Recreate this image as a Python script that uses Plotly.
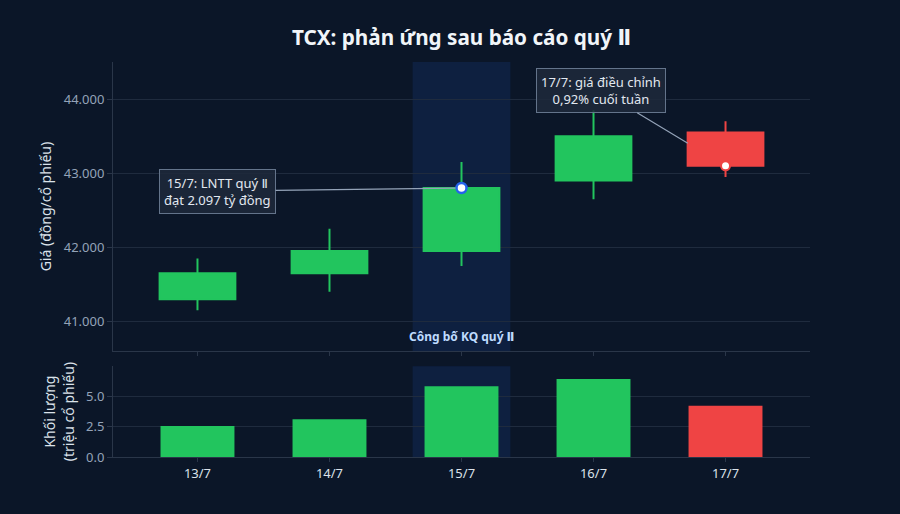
import plotly.graph_objects as go

dates = ["13/7", "14/7", "15/7", "16/7", "17/7"]
opens = [41300, 41650, 41950, 42900, 43550]
highs = [41850, 42250, 43150, 43850, 43700]
lows = [41150, 41400, 41750, 42650, 42950]
closes = [41650, 41950, 42800, 43500, 43100]
volumes = [2.55, 3.1, 5.8, 6.4, 4.2]

price_ticks = [41000, 42000, 43000, 44000]
price_tick_text = ["41.000", "42.000", "43.000", "44.000"]

GREEN = "#22c55e"
RED = "#ef4444"
BG = "#0b1628"
GRID = "#1f2b3e"
AXIS = "#2a3649"
TICKC = "#94a3b8"
FONT = "Noto Sans, DejaVu Sans"

vol_colors = [GREEN if c >= o else RED for o, c in zip(opens, closes)]

fig = go.Figure()

fig.add_trace(go.Candlestick(
    x=dates, open=opens, high=highs, low=lows, close=closes,
    increasing=dict(line=dict(color=GREEN, width=2), fillcolor=GREEN),
    decreasing=dict(line=dict(color=RED, width=2), fillcolor=RED),
    whiskerwidth=0, showlegend=False, xaxis="x", yaxis="y",
))

fig.add_trace(go.Bar(
    x=dates, y=volumes, marker=dict(color=vol_colors, line=dict(width=0)),
    width=0.56, showlegend=False, xaxis="x2", yaxis="y2",
))

# highlight markers
fig.add_trace(go.Scatter(
    x=[dates[2]], y=[closes[2]], mode="markers",
    marker=dict(size=10, color="white", line=dict(color="#2563eb", width=2.5)),
    showlegend=False, xaxis="x", yaxis="y",
))
fig.add_trace(go.Scatter(
    x=[dates[4]], y=[closes[4]], mode="markers",
    marker=dict(size=9, color="white", line=dict(color=RED, width=2)),
    showlegend=False, xaxis="x", yaxis="y",
))

XR = [-0.64, 4.64]

fig.update_layout(
    width=900, height=514,
    paper_bgcolor=BG, plot_bgcolor=BG,
    margin=dict(l=113, r=90, t=62, b=57),
    boxgroupgap=0.18,
    font=dict(family=FONT, color="#e2e8f0", size=13),
    title=dict(text="<b>TCX: phản ứng sau báo cáo quý Ⅱ</b>", x=0.5, xref="paper",
               y=0.926, yref="container", yanchor="middle",
               font=dict(size=20.7, color="#f1f5f9", family=FONT)),
    xaxis=dict(domain=[0, 1], anchor="y", type="category", range=XR,
               showticklabels=False, rangeslider=dict(visible=False),
               showgrid=False, showline=True, linecolor=AXIS,
               ticks="outside", ticklen=4, tickcolor=AXIS, matches="x2"),
    yaxis=dict(domain=[0.268, 1], anchor="x", range=[40600, 44500],
               tickvals=price_ticks, ticktext=price_tick_text,
               gridcolor=GRID, showline=True, linecolor=AXIS, zeroline=False,
               ticks="outside", ticklen=5, tickcolor=AXIS,
               tickfont=dict(color=TICKC, size=13),
               title=dict(text="Giá (đồng/cổ phiếu)", standoff=8,
                          font=dict(size=14, color="#dbe2ea"))),
    xaxis2=dict(domain=[0, 1], anchor="y2", type="category", range=XR,
                showgrid=False, showline=True, linecolor=AXIS,
                ticks="outside", ticklen=4, tickcolor=AXIS,
                tickfont=dict(color="#dbe2ea", size=13)),
    yaxis2=dict(domain=[0, 0.23], anchor="x2", range=[0, 7.46],
                tickvals=[0, 2.5, 5], tickformat=".1f",
                gridcolor=GRID, showline=True, linecolor=AXIS, zeroline=False,
                ticks="outside", ticklen=5, tickcolor=AXIS,
                tickfont=dict(color=TICKC, size=13),
                title=dict(text="Khối lượng<br>(triệu cổ phiếu)", standoff=8,
                           font=dict(size=14, color="#dbe2ea"))),
    showlegend=False,
)

# highlight band for announcement day
for xr, yr in (("x", "y"), ("x2", "y2")):
    fig.add_shape(type="rect", xref=xr, yref=f"{yr} domain",
                  x0=1.63, x1=2.37, y0=0, y1=1,
                  fillcolor="rgba(37,99,235,0.13)", line=dict(width=0), layer="below")

fig.add_annotation(x=dates[2], y=40600, xref="x", yref="y", yanchor="bottom", yshift=4,
                   text="<b>Công bố KQ quý Ⅱ</b>", showarrow=False,
                   font=dict(size=12, color="#bfdbfe"))

fig.add_annotation(x=dates[2], y=closes[2], xref="x", yref="y",
                   text="15/7: LNTT quý Ⅱ<br>đạt 2.097 tỷ đồng",
                   showarrow=True, arrowhead=0, arrowwidth=1.2, arrowcolor="#94a3b8",
                   ax=-244, ay=3, standoff=6,
                   bgcolor="rgba(30,41,59,0.85)", bordercolor="#64748b", borderwidth=1,
                   borderpad=4, font=dict(size=13, color="#e2e8f0"))

fig.add_annotation(x=dates[4], y=closes[4], xref="x", yref="y",
                   text="17/7: giá điều chỉnh<br>0,92% cuối tuần",
                   showarrow=True, arrowhead=0, arrowwidth=1.2, arrowcolor="#94a3b8",
                   ax=-125, ay=-75, standoff=44,
                   bgcolor="rgba(30,41,59,0.85)", bordercolor="#64748b", borderwidth=1,
                   borderpad=4, font=dict(size=13, color="#e2e8f0"))

fig.write_html("out.html")
